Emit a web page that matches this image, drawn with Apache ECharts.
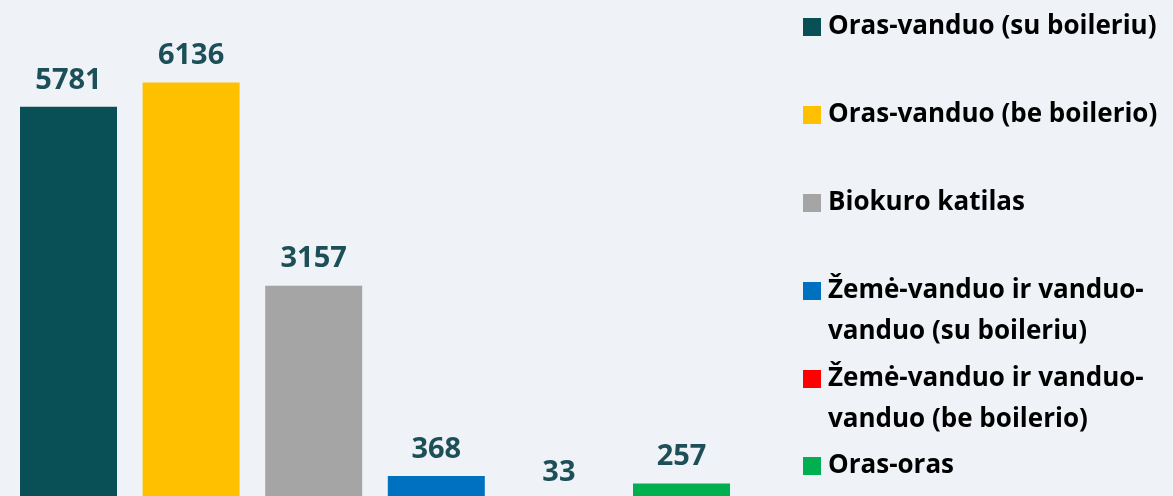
<!DOCTYPE html>
<html>
<head>
<meta charset="utf-8">
<script src="https://cdn.jsdelivr.net/npm/echarts@6/dist/echarts.min.js"></script>
<style>
  html, body { margin: 0; padding: 0; background: #eff3f7; }
  #chart { width: 1173px; height: 496px; }
</style>
</head>
<body>
<div id="chart"></div>
<script>
const names = [
  "Oras-vanduo (su boileriu)",
  "Oras-vanduo (be boilerio)",
  "Biokuro katilas",
  "Žemė-vanduo ir vanduo-vanduo (su boileriu)",
  "Žemė-vanduo ir vanduo-vanduo (be boilerio)",
  "Oras-oras"
];
const legendLabels = [
  "Oras-vanduo (su boileriu)",
  "Oras-vanduo (be boilerio)",
  "Biokuro katilas",
  "Žemė-vanduo ir vanduo-\nvanduo (su boileriu)",
  "Žemė-vanduo ir vanduo-\nvanduo (be boilerio)",
  "Oras-oras"
];
const values = [5781, 6136, 3157, 368, 33, 257];
const colors = ["#084f56", "#ffc000", "#a5a5a5", "#0070c0", "#ff0000", "#00b050"];

const chart = echarts.init(document.getElementById("chart"));

// one legend per entry, so the wrapped ones keep the square on the first line
const legendCenters = [27, 115, 203, 291, 379, 466];
const legends = names.map(function (n, i) {
  const twoLine = legendLabels[i].indexOf("\n") >= 0;
  return {
    show: true,
    orient: "vertical",
    left: 803,
    top: twoLine ? legendCenters[i] - 61.5 : legendCenters[i] - 20.5,
    padding: 0,
    itemWidth: 18,
    itemHeight: 18,
    selectedMode: false,
    icon: "rect",
    data: [{ name: n }],
    // empty first line so the block's middle line is the first real line
    formatter: function () { return twoLine ? "\n" + legendLabels[i] : legendLabels[i]; },
    textStyle: {
      fontFamily: "Open Sans",
      fontWeight: "bold",
      fontSize: 26,
      color: "#000",
      lineHeight: 41,
      padding: [0, 0, 0, 2]
    }
  };
});

const series = values.map(function (v, i) {
  return {
    name: names[i],
    type: "bar",
    stack: "all",
    barWidth: 97,
    data: names.map(function (c, j) { return j === i ? v : "-"; }),
    itemStyle: { color: colors[i] },
    label: {
      show: true,
      position: "top",
      distance: 12,
      color: "#1d4f58",
      fontFamily: "Open Sans",
      fontWeight: "bold",
      fontSize: 29
    }
  };
});

const option = {
  backgroundColor: "#eff3f7",
  animation: false,
  legend: legends,
  grid: { left: 7.2, right: 430.2, top: 23.6, bottom: -5, outerBoundsMode: "none" },
  xAxis: {
    type: "category",
    data: names,
    show: false
  },
  yAxis: {
    type: "value",
    min: 0,
    max: 7000,
    show: false,
    splitLine: { show: false }
  },
  series: series
};
chart.setOption(option);
</script>
</body>
</html>
